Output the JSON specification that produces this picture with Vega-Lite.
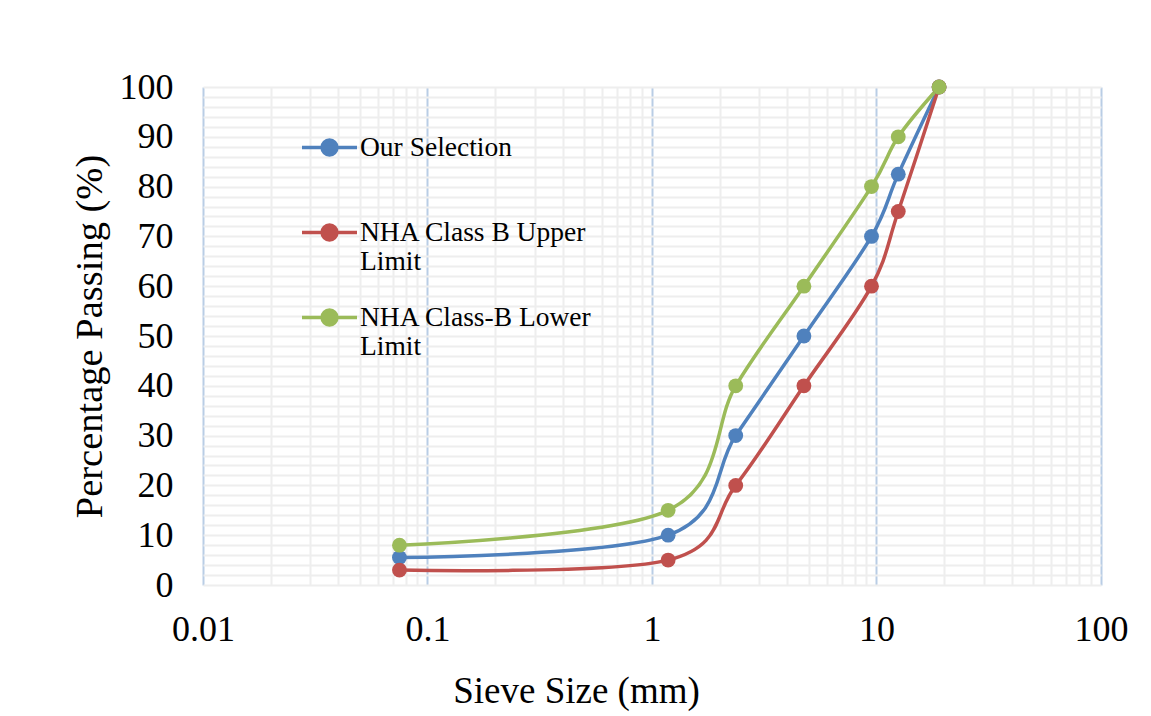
{
  "$schema": "https://vega.github.io/schema/vega-lite/v6.json",
  "width": 898,
  "height": 498,
  "autosize": {"type": "none"},
  "padding": {"left": 203, "top": 87, "right": 50, "bottom": 131},
  "background": "white",
  "config": {"view": {"stroke": null}},
  "data": {
    "values": [
      {"series": "Our Selection", "size": 0.075, "passing": 5.5},
      {"series": "Our Selection", "size": 1.18, "passing": 10},
      {"series": "Our Selection", "size": 2.36, "passing": 30},
      {"series": "Our Selection", "size": 4.75, "passing": 50},
      {"series": "Our Selection", "size": 9.5, "passing": 70},
      {"series": "Our Selection", "size": 12.5, "passing": 82.5},
      {"series": "Our Selection", "size": 19, "passing": 100},
      {"series": "NHA Class B Upper Limit", "size": 0.075, "passing": 3},
      {"series": "NHA Class B Upper Limit", "size": 1.18, "passing": 5},
      {"series": "NHA Class B Upper Limit", "size": 2.36, "passing": 20},
      {"series": "NHA Class B Upper Limit", "size": 4.75, "passing": 40},
      {"series": "NHA Class B Upper Limit", "size": 9.5, "passing": 60},
      {"series": "NHA Class B Upper Limit", "size": 12.5, "passing": 75},
      {"series": "NHA Class B Upper Limit", "size": 19, "passing": 100},
      {"series": "NHA Class-B Lower Limit", "size": 0.075, "passing": 8},
      {"series": "NHA Class-B Lower Limit", "size": 1.18, "passing": 15},
      {"series": "NHA Class-B Lower Limit", "size": 2.36, "passing": 40},
      {"series": "NHA Class-B Lower Limit", "size": 4.75, "passing": 60},
      {"series": "NHA Class-B Lower Limit", "size": 9.5, "passing": 80},
      {"series": "NHA Class-B Lower Limit", "size": 12.5, "passing": 90},
      {"series": "NHA Class-B Lower Limit", "size": 19, "passing": 100}
    ]
  },
  "mark": {
    "type": "line",
    "interpolate": "cardinal",
    "tension": 0,
    "strokeWidth": 3.5,
    "point": {"filled": true, "size": 220, "opacity": 1}
  },
  "encoding": {
    "x": {
      "field": "size",
      "type": "quantitative",
      "scale": {"type": "log", "domain": [0.01, 100], "nice": false},
      "axis": {
        "values": [0.01, 0.02, 0.03, 0.04, 0.05, 0.06, 0.07, 0.08, 0.09, 0.1, 0.2, 0.3, 0.4, 0.5, 0.6, 0.7, 0.8, 0.9, 1, 2, 3, 4, 5, 6, 7, 8, 9, 10, 20, 30, 40, 50, 60, 70, 80, 90, 100],
        "labelExpr": "abs(log(datum.value)/LN10 - round(log(datum.value)/LN10)) < 0.001 ? '' + datum.value : ''",
        "grid": true,
        "gridColor": {"condition": {"test": "abs(log(datum.value)/LN10 - round(log(datum.value)/LN10)) < 0.001", "value": "#b9cde5"}, "value": "#eeeeee"},
        "gridWidth": 2,
        "domain": false,
        "ticks": false,
        "labelFont": "Liberation Serif",
        "labelFontSize": 36,
        "labelColor": "black",
        "labelPadding": 27,
        "labelFlush": false,
        "labelOverlap": false,
        "title": "Sieve Size (mm)",
        "titleFont": "Liberation Serif",
        "titleFontSize": 37,
        "titleFontWeight": "normal",
        "titleColor": "black",
        "titlePadding": 26,
        "titleX": 373
      }
    },
    "y": {
      "field": "passing",
      "type": "quantitative",
      "scale": {"domain": [0, 100], "nice": false},
      "axis": {
        "values": [0, 2, 4, 6, 8, 10, 12, 14, 16, 18, 20, 22, 24, 26, 28, 30, 32, 34, 36, 38, 40, 42, 44, 46, 48, 50, 52, 54, 56, 58, 60, 62, 64, 66, 68, 70, 72, 74, 76, 78, 80, 82, 84, 86, 88, 90, 92, 94, 96, 98, 100],
        "labelExpr": "datum.value % 10 == 0 ? '' + datum.value : ''",
        "grid": true,
        "gridColor": "#eeeeee",
        "gridWidth": 2,
        "domain": false,
        "ticks": false,
        "labelFont": "Liberation Serif",
        "labelFontSize": 36,
        "labelColor": "black",
        "labelPadding": 30,
        "labelOverlap": false,
        "title": "Percentage Passing (%)",
        "titleFont": "Liberation Serif",
        "titleFontSize": 38.5,
        "titleFontWeight": "normal",
        "titleColor": "black",
        "titlePadding": 10
      }
    },
    "color": {
      "field": "series",
      "type": "nominal",
      "scale": {
        "domain": ["Our Selection", "NHA Class B Upper Limit", "NHA Class-B Lower Limit"],
        "range": ["#4f81bd", "#c0504d", "#9bbb59"]
      },
      "legend": {
        "orient": "none",
        "legendX": 97,
        "legendY": 31,
        "title": null,
        "labelFont": "Liberation Serif",
        "labelFontSize": 27.5,
        "labelColor": "black",
        "labelLimit": 500,
        "labelOffset": 1,
        "labelExpr": "datum.label == 'NHA Class B Upper Limit' ? ['NHA Class B Upper', 'Limit'] : datum.label == 'NHA Class-B Lower Limit' ? ['NHA Class-B Lower', 'Limit'] : [datum.label, ' ']",
        "symbolType": "M-1,0L1,0M-0.27,0A0.27,0.27,0,1,1,0.27,0A0.27,0.27,0,1,1,-0.27,0",
        "symbolSize": 3025,
        "symbolStrokeWidth": 3.5,
        "rowPadding": 12,
        "encode": {
          "symbols": {"update": {"fill": {"scale": "color", "field": "value"}, "opacity": {"value": 1}}}
        }
      }
    }
  }
}
